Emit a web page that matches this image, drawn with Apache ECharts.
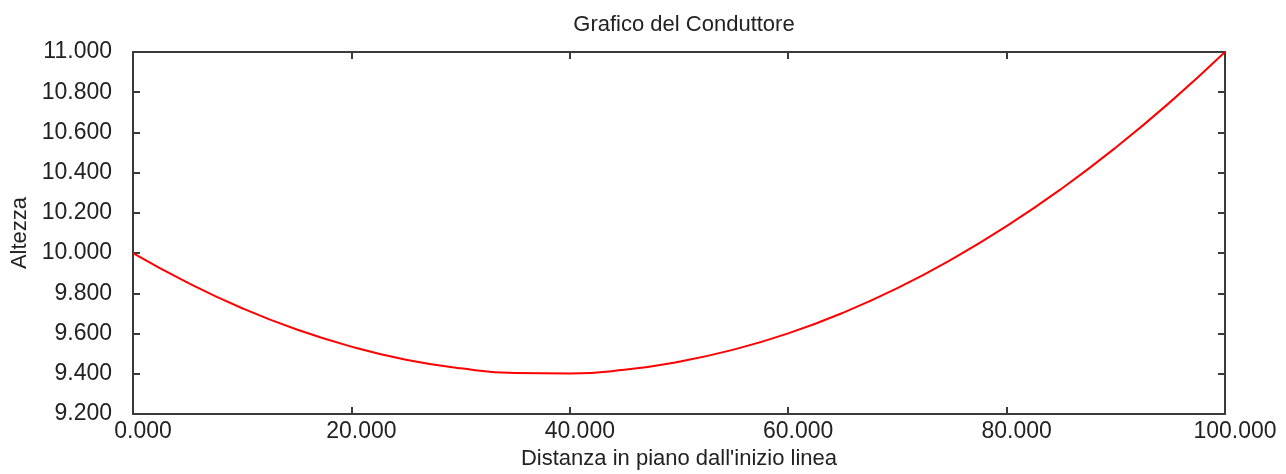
<!DOCTYPE html>
<html>
<head>
<meta charset="utf-8">
<title>Grafico del Conduttore</title>
<script src="https://cdn.jsdelivr.net/npm/echarts@6/dist/echarts.min.js"></script>
<style>
  html, body { margin: 0; padding: 0; background: #fff; }
  #chart { width: 1286px; height: 474px; }
</style>
</head>
<body>
<div id="chart"></div>
<script>
// distanza in piano (m) e altezza del conduttore (m)
const distanza = [0, 5, 10, 15, 20, 25, 30, 35, 40, 45, 50, 55, 60, 65, 70, 75, 80, 85, 90, 95, 100]
const altezza = [10.000, 9.853, 9.726, 9.620, 9.535, 9.470, 9.427, 9.404, 9.402, 9.420, 9.460,
  9.520, 9.601, 9.703, 9.826, 9.970, 10.134, 10.319, 10.525, 10.752, 11.000]

const xMin = 0, xMax = 100, xStep = 20
const yMin = 9.2, yMax = 11.0, yStep = 0.2

const font = '"Liberation Sans Narrow", "Liberation Sans", Arial, sans-serif'
const axisColor = '#3a3a3a'
const textColor = '#222'
const fmt = v => v.toFixed(3)

const chart = echarts.init(document.getElementById('chart'))

const frameAxis = {
  type: 'value',
  axisLine: { show: true, onZero: false, lineStyle: { color: axisColor, width: 2 } },
  axisTick: { show: true, inside: true, length: 7, lineStyle: { color: axisColor, width: 2 } },
  splitLine: { show: false }
}

const option = {
  animation: false,
  title: {
    text: 'Grafico del Conduttore',
    left: 679,
    textAlign: 'center',
    top: 9,
    textStyle: { fontFamily: font, fontSize: 22, fontWeight: 'normal', color: textColor }
  },
  grid: {
    left: 133, right: 61, top: 52, bottom: 60,
    containLabel: false,
    outerBoundsMode: 'none'
  },
  xAxis: [
    {
      ...frameAxis,
      position: 'bottom',
      min: xMin, max: xMax, interval: xStep,
      name: "Distanza in piano dall'inizio linea",
      nameLocation: 'middle',
      nameGap: 34,
      nameTextStyle: { fontFamily: font, fontSize: 22, color: textColor },
      axisLabel: {
        show: true, margin: 6, padding: [0, 0, 0, 20],
        fontFamily: font, fontSize: 23, color: textColor,
        formatter: fmt
      }
    },
    {
      ...frameAxis,
      position: 'top',
      min: xMin, max: xMax, interval: xStep,
      axisLabel: { show: false }
    }
  ],
  yAxis: [
    {
      ...frameAxis,
      position: 'left',
      min: yMin, max: yMax, interval: yStep,
      name: 'Altezza',
      nameLocation: 'middle',
      nameGap: 102,
      nameTextStyle: { fontFamily: font, fontSize: 22, color: textColor },
      axisLabel: {
        show: true, margin: 21,
        fontFamily: font, fontSize: 23, color: textColor,
        formatter: fmt
      }
    },
    {
      ...frameAxis,
      position: 'right',
      min: yMin, max: yMax, interval: yStep,
      axisLabel: { show: false }
    }
  ],
  series: [{
    type: 'line',
    xAxisIndex: 0,
    yAxisIndex: 0,
    data: distanza.map((d, i) => [d, altezza[i]]),
    smooth: true,
    showSymbol: false,
    lineStyle: { color: '#ff0000', width: 2 }
  }]
}

chart.setOption(option)
</script>
</body>
</html>
